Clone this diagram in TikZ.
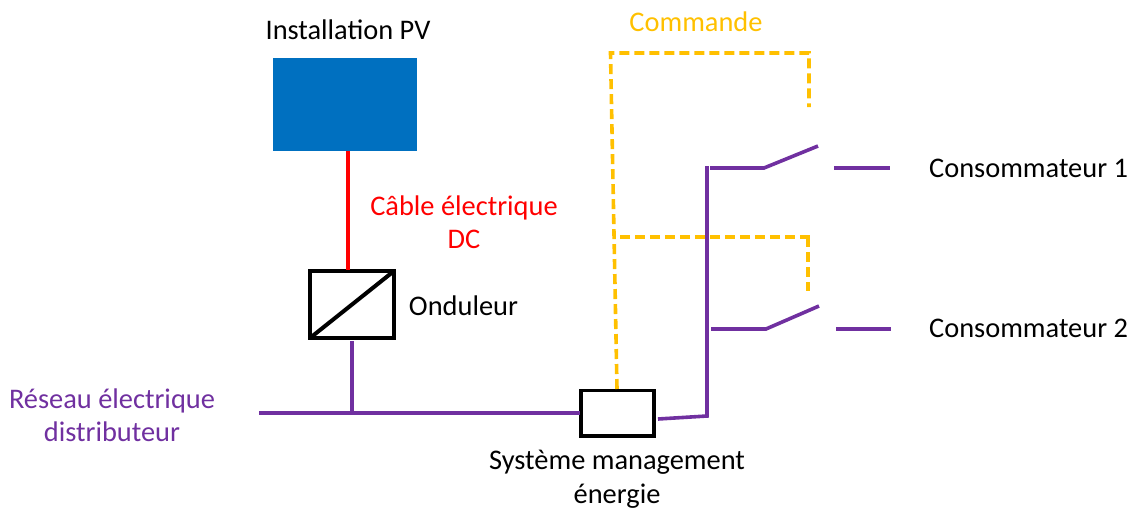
\documentclass[tikz,border=0pt]{standalone}
\usepackage{fontspec}
\setmainfont{Carlito}
\definecolor{pvblue}{HTML}{0070C0}
\definecolor{netpurple}{HTML}{7030A0}
\definecolor{cmdorange}{HTML}{FFC000}
\tikzset{
  px/.style={x=1pt,y=-1pt},
  lbl/.style={inner sep=0pt,font=\fontsize{28.4}{33}\selectfont,align=center},
  boxb/.style={draw=black,line width=3.6pt,fill=white,inner sep=0pt,outer sep=0pt,anchor=north west},
  power/.style={draw=netpurple,line width=3.6pt},
  dccable/.style={draw=red,line width=3.8pt},
  cmdline/.style={draw=cmdorange,line width=3.6pt,dash pattern=on 10pt off 5pt},
}
\begin{document}
\begin{tikzpicture}[px]
\useasboundingbox (0,0) rectangle (1131,509);
% nodes
\node[fill=pvblue,inner sep=0pt,outer sep=0pt,minimum width=144pt,minimum height=93pt,anchor=north west] (pv) at (273,58) {};
\node[boxb,minimum width=84pt,minimum height=67pt] (ond) at (310,271) {};
\node[boxb,minimum width=73pt,minimum height=45.5pt] (sme) at (581,390.5) {};
\node[lbl] (tpv) at (348,30) {Installation PV};
\node[lbl,text=red] (tcable) at (464,222.5) {Câble électrique\\DC};
\node[lbl] (tond) at (463.5,306) {Onduleur};
\node[lbl,text=netpurple] (tres) at (112,415) {Réseau électrique\\distributeur};
\node[lbl,font=\fontsize{28.4}{34}\selectfont] (tsme) at (617,479) {Système management\\énergie};
\node[lbl,text=cmdorange] (tcmd) at (696,22) {Commande};
\node[lbl,anchor=west] (tc1) at (929,168.5) {Consommateur 1};
\node[lbl,anchor=west] (tc2) at (929,328.5) {Consommateur 2};
% free-end coordinates
\coordinate (redtop) at (348,151);
\coordinate (redbot) at (348,270);
\coordinate (ondout) at (352,341);
\coordinate (tee) at (352,415);
\coordinate (gridL) at (259,413);
\coordinate (smeL) at (580,413);
\coordinate (smeR) at (658,419);
\coordinate (busB) at (707,416);
\coordinate (busT) at (707,166);
\coordinate (s1a) at (710,168);
\coordinate (s1b) at (764,168);
\coordinate (s1c) at (818,146);
\coordinate (s1d) at (834,168);
\coordinate (s1e) at (890,168);
\coordinate (s2a) at (711,329);
\coordinate (s2b) at (766,329);
\coordinate (s2c) at (819,306);
\coordinate (s2d) at (836,329);
\coordinate (s2e) at (891,329);
\coordinate (c0) at (617,389);
\coordinate (c1) at (610.5,53);
\coordinate (c2) at (809,53);
\coordinate (c3) at (809,107);
\coordinate (d0) at (620,237);
\coordinate (d1) at (812,237);
\coordinate (d2) at (808,237);
\coordinate (d3) at (808,291);
% connectors
\draw[dccable] (redtop) -- (redbot);
\draw[power] (ondout) -- (tee);
\draw[power] (gridL) -- (smeL);
\draw[power,line join=miter] (smeR) -- (busB) -- (busT);
\draw[power] (s1a) -- (s1b) -- (s1c);
\draw[power] (s1d) -- (s1e);
\draw[power] (s2a) -- (s2b) -- (s2c);
\draw[power] (s2d) -- (s2e);
\draw[cmdline] (c0) -- (c1) -- (c2) -- (c3);
\draw[cmdline] (d0) -- (d1);
\draw[cmdline] (d2) -- (d3);
\draw[black,line width=4pt] (ond.south west) -- (ond.north east);
\end{tikzpicture}
\end{document}
